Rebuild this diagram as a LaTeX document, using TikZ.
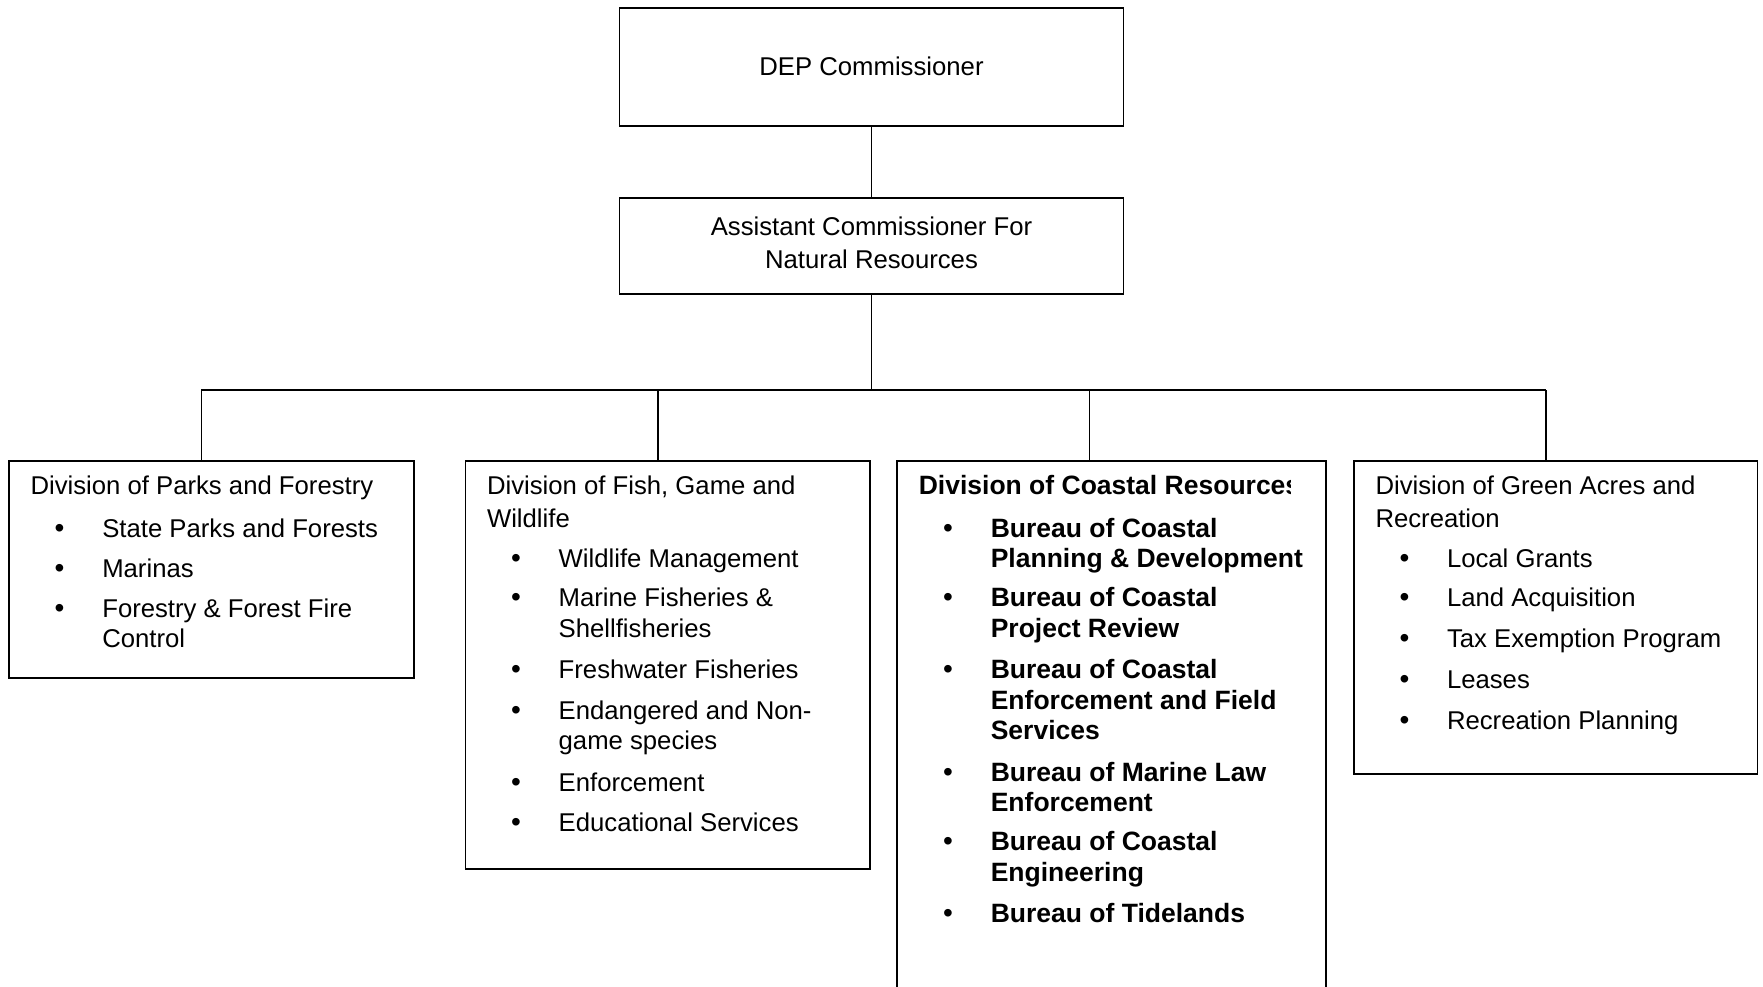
\documentclass[tikz,border=0pt]{standalone}
\usepackage{fontspec}
\setmainfont{Liberation Sans}
\newcommand\fsz{\fontsize{25.7}{30.4}\selectfont}
\newcommand\bsz{\fontsize{26.5}{30.4}\selectfont\bfseries}
\begin{document}
\begin{tikzpicture}[x=1pt,y=-1pt,
  box/.style={draw,line width=1.8pt,inner sep=0pt,outer sep=0pt,anchor=north west},
  link/.style={line width=1.6pt},
  txt/.style={anchor=base west,inner sep=0pt,outer sep=0pt,font=\fsz},
  btxt/.style={anchor=base west,inner sep=0pt,outer sep=0pt,font=\bsz},
  bul/.style={anchor=base,inner sep=0pt,outer sep=0pt,font=\fontsize{28}{30}\selectfont}]
\useasboundingbox (0,0) rectangle (1763,987);
\clip (0,0) rectangle (1763,987);

% top boxes
\node[box,minimum width=504pt,minimum height=118pt,font=\fsz] (dep) at (619.5,8) {\raisebox{2.5pt}{DEP Commissioner}};
\node[box,minimum width=504pt,minimum height=96pt,font=\fsz,align=center] (asst) at (619.5,198) {\raisebox{4.5pt}{\begin{tabular}{@{}c@{}}Assistant Commissioner For\\[2pt]Natural Resources\end{tabular}}};

% division boxes
\node[box,minimum width=404.8pt,minimum height=216.7pt] (parks) at (9,461) {};
\node[box,minimum width=404.8pt,minimum height=408.3pt] (fish) at (465.5,461) {};
\node[box,minimum width=428.4pt,minimum height=600pt] (coast) at (897.3,461) {};
\node[box,minimum width=403.5pt,minimum height=312.6pt] (green) at (1354,461) {};

% connectors
\coordinate (j1) at (201.3,390.2);
\coordinate (j2) at (657.8,390.2);
\coordinate (j3) at (1089.5,390.2);
\coordinate (j4) at (1546,390.2);
\draw[link] (dep.south) -- (asst.north);
\draw[link] (asst.south) -- (asst.south |- j1);
\draw[link] (j1) -- (j4);
\draw[link] (j1) -- (j1 |- parks.north);
\draw[link] (j2) -- (j2 |- fish.north);
\draw[link] (j3) -- (j3 |- coast.north);
\draw[link] (j4) -- (j4 |- green.north);

% Parks and Forestry
\node[txt] (p0) at (30.5,494.4) {Division of Parks and Forestry};
\node[bul] (pb1) at (59.5,537.1) {•};
\node[txt] (p1) at (102.3,537.1) {State Parks and Forests};
\node[bul] (pb2) at (59.5,577.6) {•};
\node[txt] (p2) at (102.3,577.6) {Marinas};
\node[bul] (pb3) at (59.5,617) {•};
\node[txt] (p3a) at (102.3,617) {Forestry \& Forest Fire};
\node[txt] (p3b) at (102.3,647.3) {Control};

% Fish, Game and Wildlife
\node[txt] (f0a) at (487,494.4) {Division of Fish, Game and};
\node[txt] (f0b) at (487,527) {Wildlife};
\node[bul] (fb1) at (516,567.4) {•};
\node[txt] (f1) at (558.7,567.4) {Wildlife Management};
\node[bul] (fb2) at (516,606.8) {•};
\node[txt] (f2a) at (558.7,606.8) {Marine Fisheries \&};
\node[txt] (f2b) at (558.7,637.2) {Shellfisheries};
\node[bul] (fb3) at (516,678.8) {•};
\node[txt] (f3) at (558.7,678.8) {Freshwater Fisheries};
\node[bul] (fb4) at (516,719.3) {•};
\node[txt] (f4a) at (558.7,719.3) {Endangered and Non-};
\node[txt] (f4b) at (558.7,749.6) {game species};
\node[bul] (fb5) at (516,791.2) {•};
\node[txt] (f5) at (558.7,791.2) {Enforcement};
\node[bul] (fb6) at (516,831.7) {•};
\node[txt] (f6) at (558.7,831.7) {Educational Services};

% Coastal Resources
\begin{scope}
\clip (897.3,440) rectangle (1290,520);
\node[btxt] (c0) at (918.8,494.4) {Division of Coastal Resources};
\end{scope}
\node[bul] (cb1) at (948,537.1) {•};
\node[btxt] (c1a) at (990.8,537.1) {Bureau of Coastal};
\node[btxt] (c1b) at (990.8,567.4) {Planning \& Development};
\node[bul] (cb2) at (948,606.8) {•};
\node[btxt] (c2a) at (990.8,606.8) {Bureau of Coastal};
\node[btxt] (c2b) at (990.8,637.2) {Project Review};
\node[bul] (cb3) at (948,678.8) {•};
\node[btxt] (c3a) at (990.8,678.8) {Bureau of Coastal};
\node[btxt] (c3b) at (990.8,709.1) {Enforcement and Field};
\node[btxt] (c3c) at (990.8,739.5) {Services};
\node[bul] (cb4) at (948,781.1) {•};
\node[btxt] (c4a) at (990.8,781.1) {Bureau of Marine Law};
\node[btxt] (c4b) at (990.8,811.5) {Enforcement};
\node[bul] (cb5) at (948,850.8) {•};
\node[btxt] (c5a) at (990.8,850.8) {Bureau of Coastal};
\node[btxt] (c5b) at (990.8,881.2) {Engineering};
\node[bul] (cb6) at (948,922.8) {•};
\node[btxt] (c6) at (990.8,922.8) {Bureau of Tidelands};

% Green Acres and Recreation
\node[txt] (g0a) at (1375.5,494.4) {Division of Green Acres and};
\node[txt] (g0b) at (1375.5,527) {Recreation};
\node[bul] (gb1) at (1404.5,567.4) {•};
\node[txt] (g1) at (1447,567.4) {Local Grants};
\node[bul] (gb2) at (1404.5,606.8) {•};
\node[txt] (g2) at (1447,606.8) {Land Acquisition};
\node[bul] (gb3) at (1404.5,647.3) {•};
\node[txt] (g3) at (1447,647.3) {Tax Exemption Program};
\node[bul] (gb4) at (1404.5,688.9) {•};
\node[txt] (g4) at (1447,688.9) {Leases};
\node[bul] (gb5) at (1404.5,729.4) {•};
\node[txt] (g5) at (1447,729.4) {Recreation Planning};
\end{tikzpicture}
\end{document}
